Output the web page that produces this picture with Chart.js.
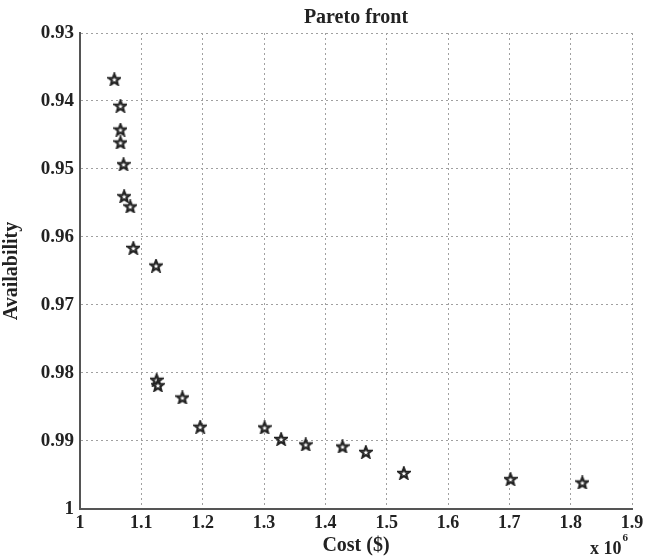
<!DOCTYPE html>
<html>
<head>
<meta charset="utf-8">
<script src="https://cdn.jsdelivr.net/npm/chart.js@4.4.0/dist/chart.umd.min.js"></script>
<style>
  html, body { margin: 0; padding: 0; background: #fff; }
  #wrap { width: 651px; height: 558px; }
</style>
</head>
<body>
<div id="wrap"><canvas id="paretoChart" width="651" height="558"></canvas></div>
<script>
// cost in units of 10^6 $
const costValues = [1.056, 1.066, 1.066, 1.066, 1.071, 1.072, 1.082, 1.087, 1.124, 1.125, 1.127,
  1.167, 1.196, 1.301, 1.328, 1.368, 1.428, 1.466, 1.528, 1.702, 1.819];
const availabilityValues = [0.9368, 0.9407, 0.9442, 0.9461, 0.9493, 0.954, 0.9555, 0.9616, 0.9642, 0.981, 0.9818,
  0.9836, 0.9879, 0.988, 0.9897, 0.9905, 0.9908, 0.9916, 0.9947, 0.9956, 0.9961];
const xTickValues = [1, 1.1, 1.2, 1.3, 1.4, 1.5, 1.6, 1.7, 1.8, 1.9];
const yTickValues = [0.93, 0.94, 0.95, 0.96, 0.97, 0.98, 0.99, 1];

const serif = "'Liberation Serif', 'DejaVu Serif', serif";

// pentagram marker (outline), like matlab 'p'
function makeStar(size) {
  const c = document.createElement("canvas");
  c.width = size;
  c.height = size;
  const g = c.getContext("2d");
  const cx = size / 2, cy = size / 2 + 0.6;
  const rOut = size / 2 - 1.2, rIn = rOut * 0.42;
  g.beginPath();
  for (let i = 0; i < 10; i++) {
    const r = i % 2 === 0 ? rOut : rIn;
    const a = -Math.PI / 2 + i * Math.PI / 5;
    const px = cx + r * Math.cos(a), py = cy + r * Math.sin(a);
    if (i === 0) g.moveTo(px, py); else g.lineTo(px, py);
  }
  g.closePath();
  g.fillStyle = "#fff";
  g.fill();
  g.lineWidth = 2.2;
  g.strokeStyle = "#222";
  g.stroke();
  return c;
}

const points = costValues.map((c, i) => ({ x: c, y: availabilityValues[i] }));

// "x 10^6" note under the right end of the x axis
const exponentLabel = {
  id: "exponentLabel",
  afterDraw(chart) {
    const ctx = chart.ctx;
    ctx.save();
    ctx.fillStyle = "#222";
    ctx.textBaseline = "alphabetic";
    ctx.textAlign = "left";
    ctx.font = "bold 18px " + serif;
    ctx.fillText("x 10", 590, 554);
    const w = ctx.measureText("x 10").width;
    ctx.font = "bold 11px " + serif;
    ctx.fillText("6", 590 + w + 1, 541);
    ctx.restore();
  }
};

const fmt = (v) => String(Number(v.toFixed(2)));

new Chart(document.getElementById("paretoChart"), {
  type: "scatter",
  data: {
    datasets: [{
      label: "Pareto front",
      data: points,
      pointStyle: makeStar(14),
      pointRadius: 7,
      pointHoverRadius: 7
    }]
  },
  options: {
    responsive: false,
    animation: false,
    layout: { padding: { left: 0, right: 19, top: 0, bottom: 0 } },
    plugins: {
      legend: { display: false },
      tooltip: { enabled: false },
      title: {
        display: true,
        text: "Pareto front",
        fullSize: false,
        color: "#222",
        font: { family: serif, size: 20, weight: "bold" },
        padding: { top: 6, bottom: 3 }
      }
    },
    scales: {
      x: {
        type: "linear",
        min: 1,
        max: 1.9,
        afterBuildTicks: (scale) => { scale.ticks = xTickValues.map((v) => ({ value: v })); },
        afterFit: (scale) => { scale.height = 49; },
        ticks: {
          color: "#222",
          padding: 4,
          font: { family: serif, size: 18, weight: "bold" },
          callback: (v) => fmt(v)
        },
        grid: { color: "#a0a0a0", drawTicks: false, lineWidth: 1 },
        border: { display: true, color: "#555", width: 2, dash: [2, 3] },
        title: {
          display: true,
          text: "Cost ($)",
          color: "#222",
          font: { family: serif, size: 20, weight: "bold" },
          padding: { top: 0, bottom: 0 }
        }
      },
      y: {
        type: "linear",
        reverse: true,
        min: 0.93,
        max: 1,
        afterBuildTicks: (scale) => { scale.ticks = yTickValues.map((v) => ({ value: v })); },
        afterFit: (scale) => { scale.width = 80; },
        ticks: {
          color: "#222",
          padding: 6,
          font: { family: serif, size: 19, weight: "bold" },
          callback: (v) => fmt(v)
        },
        grid: { color: "#a0a0a0", drawTicks: false, lineWidth: 1 },
        border: { display: true, color: "#555", width: 2, dash: [2, 3] },
        title: {
          display: true,
          text: "Availability",
          color: "#222",
          font: { family: serif, size: 20, weight: "bold" },
          padding: { top: 0, bottom: 0 }
        }
      }
    }
  },
  plugins: [exponentLabel]
});
</script>
</body>
</html>
